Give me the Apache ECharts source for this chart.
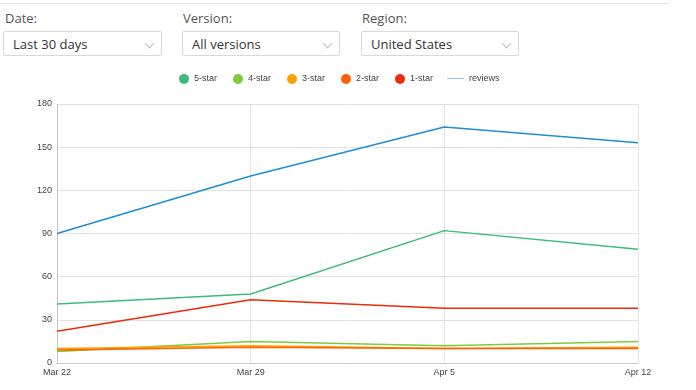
<!DOCTYPE html>
<html><head><meta charset="utf-8">
<script src="https://cdn.jsdelivr.net/npm/echarts@6/dist/echarts.min.js"></script>
<style>
html,body{margin:0;padding:0;width:696px;height:390px;background:#fff;overflow:hidden;font-family:"Open Sans",sans-serif;}
.topline{position:absolute;left:0;top:3px;width:670px;height:1px;background:#e6e6e6;}
.lbl{position:absolute;top:9px;font-size:13px;color:#555;}
.sel{position:absolute;top:31px;height:25px;border:1px solid #d9d9d9;border-radius:2px;font-size:13px;color:#333;line-height:25px;box-sizing:border-box;padding-left:9px;}
.sel .arr{position:absolute;right:8px;top:8px;width:6px;height:6px;border-right:1px solid #bbb;border-bottom:1px solid #bbb;transform:rotate(45deg);}
#chart{position:absolute;left:0;top:60px;width:696px;height:330px;}
</style></head><body>
<div class="topline"></div>
<div class="lbl" style="left:5px">Date:</div>
<div class="lbl" style="left:183px">Version:</div>
<div class="lbl" style="left:362px">Region:</div>
<div class="sel" style="left:3px;width:159px;">Last 30 days<span class="arr"></span></div>
<div class="sel" style="left:182px;width:158px;">All versions<span class="arr"></span></div>
<div class="sel" style="left:361px;width:158px;">United States<span class="arr"></span></div>
<div id="chart"></div>
<script>
const categories = ['Mar 22', 'Mar 29', 'Apr 5', 'Apr 12'];
const yTicks = [0, 30, 60, 90, 120, 150, 180];
const fiveStar = [41, 48, 92, 79];
const fourStar = [8, 15, 12, 15];
const threeStar = [10, 12, 10, 11];
const twoStar = [9, 11, 10, 10];
const oneStar = [22, 44, 38, 38];
const reviews = [90, 130, 164, 153];

const colors = ['#3dbb7b', '#7ecb3c', '#ffa100', '#ff6000', '#ef2a0c', '#1e8ddb'];
const names = ['5-star', '4-star', '3-star', '2-star', '1-star', 'reviews'];
const datas = [fiveStar, fourStar, threeStar, twoStar, oneStar, reviews];

const legendText = { fontSize: 9, color: '#444', fontFamily: 'Liberation Sans, Arial, sans-serif' };
const chart = echarts.init(document.getElementById('chart'));
chart.setOption({
  animation: false,
  color: colors,
  legend: [{
    top: 9, left: 174, itemWidth: 10, itemHeight: 10, itemGap: 16,
    textStyle: legendText,
    data: names.slice(0, 5).map(n => ({ name: n, icon: 'circle' }))
  }, {
    top: 9, left: 442, itemWidth: 17, itemHeight: 10,
    textStyle: legendText,
    data: [{ name: 'reviews', icon: 'path://M0,0 L20,0 L20,1.2 L0,1.2 Z', itemStyle: { color: '#8ec8ef' } }]
  }],
  grid: { left: 57, right: 58, top: 44, bottom: 27 },
  xAxis: {
    type: 'category', data: categories, boundaryGap: false,
    axisLine: { lineStyle: { color: '#c8c8c8' } },
    axisTick: { show: false },
    axisLabel: { fontSize: 9, color: '#444', margin: 5, fontFamily: 'Liberation Sans, Arial, sans-serif',
      alignMinLabel: 'center', alignMaxLabel: 'center' },
    splitLine: { show: true, lineStyle: { color: '#e4e4e4' } }
  },
  yAxis: {
    type: 'value', min: yTicks[0], max: yTicks[yTicks.length - 1], interval: 30,
    axisLine: { show: true, lineStyle: { color: '#c8c8c8' } },
    axisTick: { show: false },
    axisLabel: { fontSize: 9, color: '#444', margin: 5, fontFamily: 'Liberation Sans, Arial, sans-serif' },
    splitLine: { lineStyle: { color: '#e2e2e2' } }
  },
  series: names.map((n, i) => ({
    name: n, type: 'line', data: datas[i], symbol: 'none',
    lineStyle: { width: 1.5, color: colors[i] },
    itemStyle: { color: i === 5 ? '#8ec8ef' : colors[i] },
    z: i === 3 ? 4 : 2
  }))
});
</script>
</body></html>
